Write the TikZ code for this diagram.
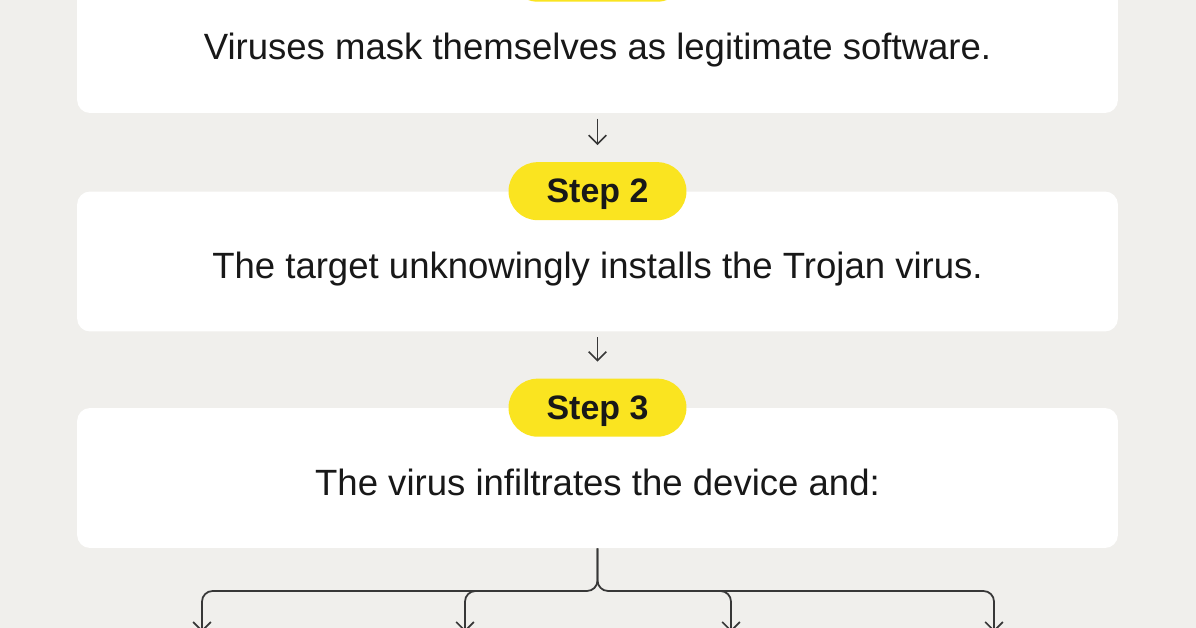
\documentclass[tikz,border=0pt]{standalone}
\usepackage{fontspec}
\setmainfont{Liberation Sans}
\usetikzlibrary{arrows.meta}
\usetikzlibrary{calc}
\tikzset{>=latex}
\definecolor{bggray}{RGB}{240,239,236}
\definecolor{stepyellow}{RGB}{250,228,32}
\definecolor{inkblack}{RGB}{24,24,24}
\definecolor{linegray}{RGB}{55,55,55}
\tikzstyle{msgbox}=[fill=white,rounded corners=7.4pt,minimum width=20.82cm,minimum height=2.8cm,inner sep=0]
\tikzstyle{steppill}=[fill=stepyellow,rounded corners=16.5pt,minimum width=3.56cm,minimum height=1.16cm,inner sep=0,text=inkblack,text height=13.2pt,text depth=0pt,font=\fontsize{19.3}{23}\selectfont\bfseries]
\tikzstyle{msgtext}=[text=inkblack,inner sep=0,anchor=base,font=\fontsize{20.8}{24}\selectfont]
\tikzstyle{mydownarr}=[linegray,line width=0.9pt,-{Straight Barb[length=5pt,width=10pt]}]
\tikzstyle{branch}=[linegray,line width=1pt,rounded corners=6pt,-{Straight Barb[length=5pt,width=10pt]}]

\begin{document}
\begin{tikzpicture}[x=0.02cm,y=-0.02cm]
	
	\def\W{1196}     % picture width (px)
	\def\Hh{628}     % picture height (px)
	\def\cx{597.5}   % middle of the column
	\def\yj{591}     % height of the branch line
	\def\bl{17}      % baseline below box centre
	\fill[bggray] (0,0) rectangle (\W,\Hh);
	\useasboundingbox (0,0) rectangle (\W,\Hh);
	
	% BOXES
	\node[msgbox] (box1) at (\cx,43) {};
	\node[msgbox] (box2) at (\cx,261.5) {};
	\node[msgbox] (box3) at (\cx,478) {};
	
	% STEPS
	\node[steppill] (step1) at (box1.north) {};
	\node[steppill] (step2) at (box2.north) {Step 2};
	\node[steppill] (step3) at (box3.north) {Step 3};
	
	% TEXTS
	\node[msgtext] (msg1) at ($(box1.center)+(0,\bl)$) {Viruses mask themselves as legitimate software.};
	\node[msgtext] (msg2) at ($(box2.center)+(0,\bl)$) {The target unknowingly installs the Trojan virus.};
	\node[msgtext] (msg3) at ($(box3.center)+(0,\bl)$) {The virus infiltrates the device and:};
	
	% ARROWS
	\draw[mydownarr,shorten <=3pt,shorten >=9.5pt] (box1.south) -- (step2.north);
	\draw[mydownarr,shorten <=3pt,shorten >=9.5pt] (box2.south) -- (step3.north);
	
	% BRANCHES
	\coordinate (J) at (\cx,\yj);
	\coordinate (S2) at (482,\yj);
	\coordinate (S3) at (714,\yj);
	\coordinate (E1) at (202,632);
	\coordinate (E2) at (465,632);
	\coordinate (E3) at (731,632);
	\coordinate (E4) at (994,632);
	\draw[branch] (box3.south) -- (J) -| (E1);
	\draw[branch] (box3.south) -- (J) -| (E4);
	\draw[branch] (S2) -| (E2);
	\draw[branch] (S3) -| (E3);
	
\end{tikzpicture}
\end{document}
